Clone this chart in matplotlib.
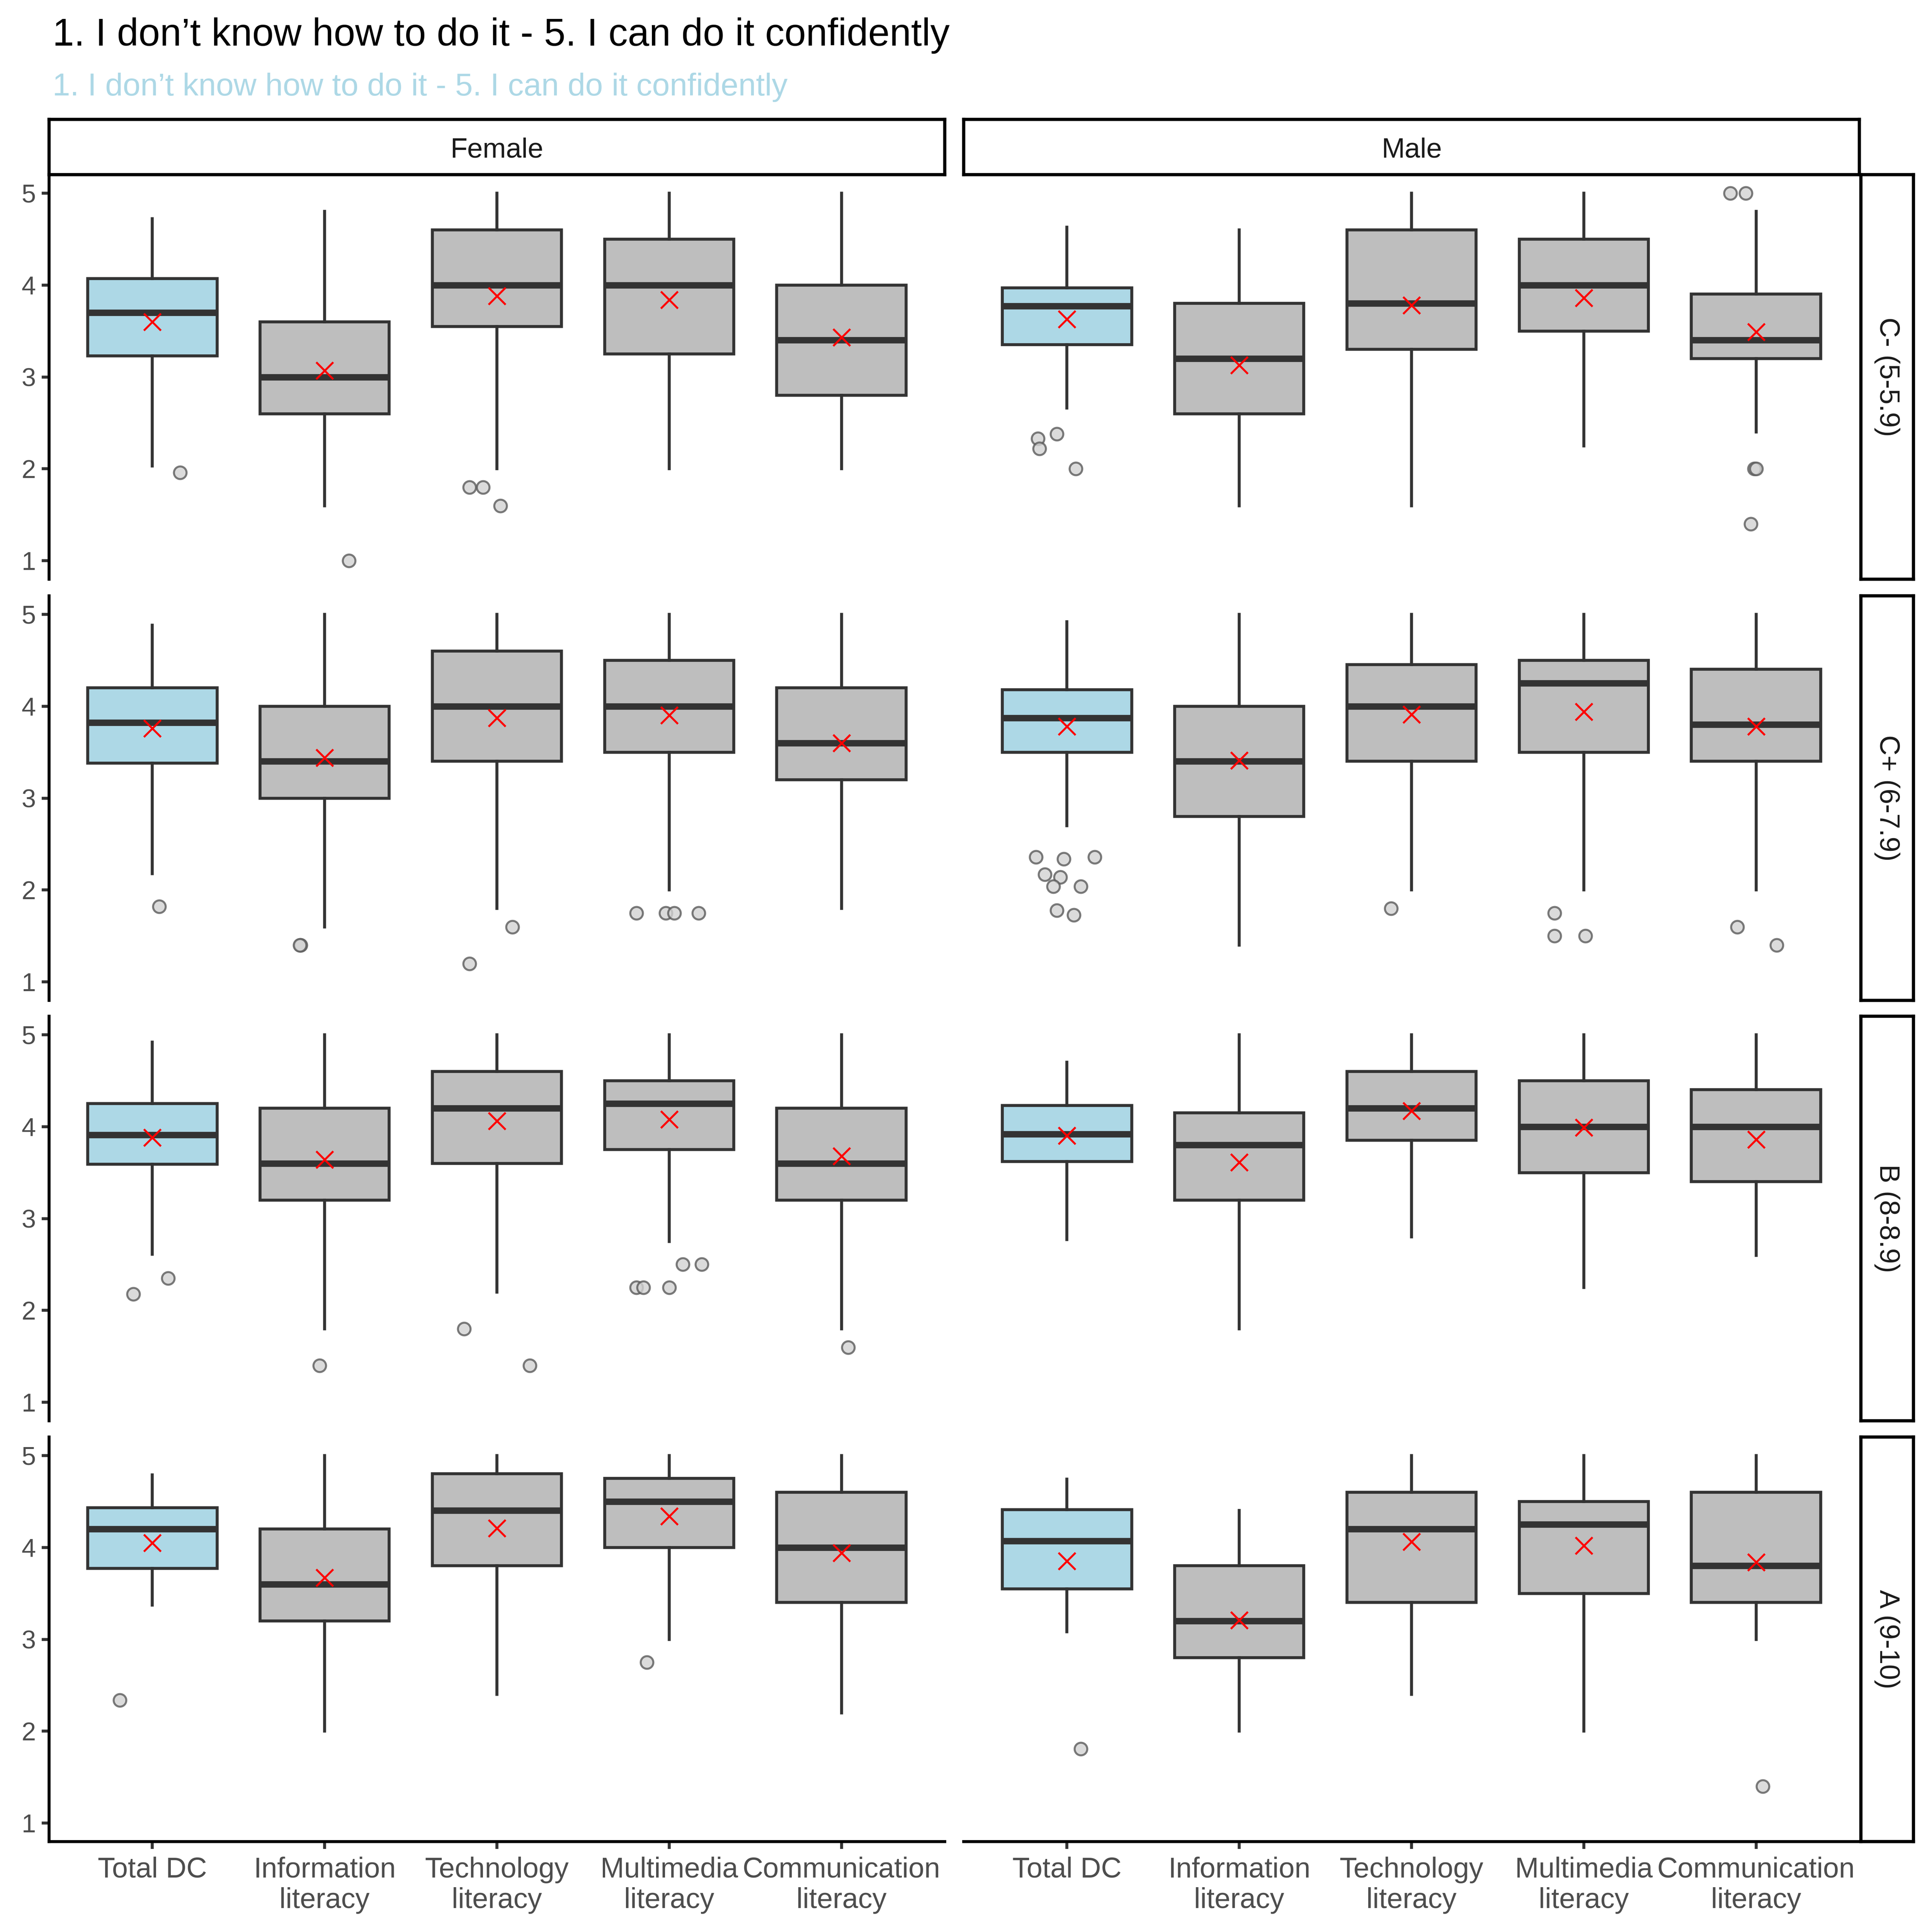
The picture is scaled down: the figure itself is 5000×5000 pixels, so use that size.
import matplotlib
matplotlib.use("Agg")
import matplotlib.pyplot as plt

plt.rcParams['font.family'] = ['Liberation Sans', 'DejaVu Sans']

title = "1. I don\u2019t know how to do it - 5. I can do it confidently"
categories = ['Total DC', 'Information\nliteracy', 'Technology\nliteracy',
              'Multimedia\nliteracy', 'Communication\nliteracy']
genders = ['Female', 'Male']
grades = ['C- (5-5.9)', 'C+ (6-7.9)', 'B (8-8.9)', 'A (9-10)']

# box statistics, indexed [grade][gender][category]
whis_lo = [
    [[2.03, 1.60, 2.00, 2.00, 2.00], [2.66, 1.60, 1.60, 2.25, 2.40]],
    [[2.18, 1.60, 1.80, 2.00, 1.80], [2.70, 1.40, 2.00, 2.00, 2.00]],
    [[2.61, 1.80, 2.20, 2.75, 1.80], [2.77, 1.80, 2.80, 2.25, 2.60]],
    [[3.37, 2.00, 2.40, 3.00, 2.20], [3.08, 2.00, 2.40, 2.00, 3.00]],
]
q1 = [
    [[3.23, 2.60, 3.55, 3.25, 2.80], [3.35, 2.60, 3.30, 3.50, 3.20]],
    [[3.38, 3.00, 3.40, 3.50, 3.20], [3.50, 2.80, 3.40, 3.50, 3.40]],
    [[3.59, 3.20, 3.60, 3.75, 3.20], [3.62, 3.20, 3.85, 3.50, 3.40]],
    [[3.77, 3.20, 3.80, 4.00, 3.40], [3.55, 2.80, 3.40, 3.50, 3.40]],
]
medians = [
    [[3.70, 3.00, 4.00, 4.00, 3.40], [3.77, 3.20, 3.80, 4.00, 3.40]],
    [[3.82, 3.40, 4.00, 4.00, 3.60], [3.87, 3.40, 4.00, 4.25, 3.80]],
    [[3.91, 3.60, 4.20, 4.25, 3.60], [3.92, 3.80, 4.20, 4.00, 4.00]],
    [[4.20, 3.60, 4.40, 4.50, 4.00], [4.07, 3.20, 4.20, 4.25, 3.80]],
]
q3 = [
    [[4.07, 3.60, 4.60, 4.50, 4.00], [3.97, 3.80, 4.60, 4.50, 3.90]],
    [[4.20, 4.00, 4.60, 4.50, 4.20], [4.18, 4.00, 4.45, 4.50, 4.40]],
    [[4.25, 4.20, 4.60, 4.50, 4.20], [4.23, 4.15, 4.60, 4.50, 4.40]],
    [[4.43, 4.20, 4.80, 4.75, 4.60], [4.41, 3.80, 4.60, 4.50, 4.60]],
]
whis_hi = [
    [[4.72, 4.80, 5.00, 5.00, 5.00], [4.63, 4.60, 5.00, 5.00, 4.80]],
    [[4.88, 5.00, 5.00, 5.00, 5.00], [4.92, 5.00, 5.00, 5.00, 5.00]],
    [[4.92, 5.00, 5.00, 5.00, 5.00], [4.70, 5.00, 5.00, 5.00, 5.00]],
    [[4.79, 5.00, 5.00, 5.00, 5.00], [4.74, 4.40, 5.00, 5.00, 5.00]],
]
means = [
    [[3.60, 3.07, 3.88, 3.84, 3.43], [3.63, 3.13, 3.78, 3.86, 3.49]],
    [[3.76, 3.44, 3.87, 3.90, 3.60], [3.78, 3.41, 3.91, 3.94, 3.78]],
    [[3.88, 3.64, 4.06, 4.08, 3.68], [3.90, 3.61, 4.17, 3.99, 3.86]],
    [[4.05, 3.67, 4.21, 4.34, 3.94], [3.85, 3.21, 4.06, 4.02, 3.84]],
]

# outliers: grade, gender, category, value, jitter
out_grade = [0, 0, 0, 0, 0,
             0, 0, 0, 0, 0, 0, 0, 0, 0,
             1, 1, 1, 1, 1, 1, 1, 1, 1,
             1, 1, 1, 1, 1, 1, 1, 1, 1, 1, 1, 1, 1, 1, 1,
             2, 2, 2, 2, 2, 2, 2, 2, 2, 2, 2,
             3, 3, 3, 3]
out_gender = [0, 0, 0, 0, 0,
              1, 1, 1, 1, 1, 1, 1, 1, 1,
              0, 0, 0, 0, 0, 0, 0, 0, 0,
              1, 1, 1, 1, 1, 1, 1, 1, 1, 1, 1, 1, 1, 1, 1,
              0, 0, 0, 0, 0, 0, 0, 0, 0, 0, 0,
              0, 0, 1, 1]
out_cat = [0, 1, 2, 2, 2,
           0, 0, 0, 0, 4, 4, 4, 4, 4,
           0, 1, 1, 2, 2, 3, 3, 3, 3,
           0, 0, 0, 0, 0, 0, 0, 0, 0, 2, 3, 3, 3, 4, 4,
           0, 0, 1, 2, 2, 3, 3, 3, 3, 3, 4,
           0, 3, 0, 4]
out_val = [1.96, 1.00, 1.80, 1.80, 1.60,
           2.33, 2.38, 2.22, 2.00, 5.00, 5.00, 2.00, 2.00, 1.40,
           1.82, 1.40, 1.40, 1.60, 1.20, 1.75, 1.75, 1.75, 1.75,
           2.36, 2.34, 2.36, 2.17, 2.14, 2.04, 2.04, 1.78, 1.73, 1.80, 1.75, 1.50, 1.50, 1.60, 1.40,
           2.18, 2.35, 1.40, 1.80, 1.40, 2.25, 2.25, 2.25, 2.50, 2.50, 1.60,
           2.34, 2.75, 1.81, 1.40]
out_jit = [0.16, 0.14, -0.16, -0.08, 0.02,
           -0.17, -0.06, -0.16, 0.05, -0.15, -0.06, -0.01, 0.00, -0.03,
           0.04, -0.14, -0.145, 0.09, -0.16, -0.19, -0.02, 0.03, 0.17,
           -0.18, -0.02, 0.16, -0.13, -0.04, -0.08, 0.08, -0.06, 0.04, -0.12, -0.17, -0.17, 0.01, -0.11, 0.12,
           -0.11, 0.09, -0.03, -0.19, 0.19, -0.19, -0.15, 0.00, 0.08, 0.19, 0.04,
           -0.19, -0.13, 0.08, 0.04]

box_fill = ['#ADD8E6', '#BEBEBE', '#BEBEBE', '#BEBEBE', '#BEBEBE']
edge = '#333333'
W = 5000.0

fig = plt.figure(figsize=(10, 10), dpi=500)

col_left = [127, 2494]
col_w = 2318
row_top = [452, 1542, 2630, 3719]
row_h = 1047

positions = list(range(1, len(categories) + 1))

for r in range(len(grades)):
    for c in range(len(genders)):
        ax = fig.add_axes([col_left[c] / W, 1 - (row_top[r] + row_h) / W,
                           col_w / W, row_h / W])
        stats = []
        for k in range(len(categories)):
            stats.append(dict(med=medians[r][c][k], q1=q1[r][c][k], q3=q3[r][c][k],
                              whislo=whis_lo[r][c][k], whishi=whis_hi[r][c][k],
                              mean=means[r][c][k], fliers=[]))
        bp = ax.bxp(stats, positions=positions, widths=0.75, patch_artist=True,
                    showcaps=False, showfliers=False, showmeans=True,
                    boxprops=dict(edgecolor=edge, linewidth=1.1),
                    whiskerprops=dict(color=edge, linewidth=1.1),
                    medianprops=dict(color=edge, linewidth=2.4, solid_capstyle='butt'),
                    meanprops=dict(marker='x', markeredgecolor='red',
                                   markersize=6.3, markeredgewidth=0.75))
        for patch, col in zip(bp['boxes'], box_fill):
            patch.set_facecolor(col)

        xs = [out_cat[i] + 1 + out_jit[i] for i in range(len(out_val))
              if out_grade[i] == r and out_gender[i] == c]
        ys = [out_val[i] for i in range(len(out_val))
              if out_grade[i] == r and out_gender[i] == c]
        ax.plot(xs, ys, linestyle='none', marker='o', markersize=4.7,
                markerfacecolor='#D3D3D3', markeredgecolor='#5A5A5A',
                markeredgewidth=0.75, alpha=0.8, zorder=4)

        ax.set_xlim(0.4, 5.6)
        ax.set_ylim(0.8, 5.2)
        for s in ['top', 'right']:
            ax.spines[s].set_visible(False)
        ax.spines['left'].set_visible(c == 0)
        ax.spines['bottom'].set_visible(r == len(grades) - 1)
        ax.spines['left'].set_linewidth(1.1)
        ax.spines['bottom'].set_linewidth(1.1)
        ax.tick_params(length=2.75, width=1.1, color='#333333',
                       labelcolor='#4D4D4D', pad=2.2)
        ax.tick_params(axis='y', labelsize=9.6)
        ax.tick_params(axis='x', labelsize=10.6, pad=2.8)
        ax.set_yticks([1, 2, 3, 4, 5])
        ax.set_xticks(positions)
        ax.set_xticklabels(categories)
        if c != 0:
            ax.tick_params(axis='y', left=False, labelleft=False)
        if r != len(grades) - 1:
            ax.tick_params(axis='x', bottom=False, labelbottom=False)

# strips on top
for c, g in enumerate(genders):
    sax = fig.add_axes([col_left[c] / W, 1 - 452 / W, col_w / W, 143 / W])
    sax.set_xticks([])
    sax.set_yticks([])
    for s in sax.spines.values():
        s.set_linewidth(1.2)
        s.set_color('black')
    sax.text(0.5, 0.44, g, ha='center', va='center', fontsize=10.4,
             color='#1A1A1A', transform=sax.transAxes)

# strips on the right
for r, gr in enumerate(grades):
    sax = fig.add_axes([4816 / W, 1 - (row_top[r] + row_h) / W, 136 / W, row_h / W])
    sax.set_xticks([])
    sax.set_yticks([])
    for s in sax.spines.values():
        s.set_linewidth(1.2)
        s.set_color('black')
    sax.text(0.5, 0.5, gr, ha='center', va='center', rotation=270,
             fontsize=10.4, color='#1A1A1A', transform=sax.transAxes)

fig.text(136 / W, 1 - 118 / W, title, fontsize=14.4, color='black',
         ha='left', va='baseline')
fig.text(136 / W, 1 - 247 / W, title, fontsize=11.8, color='#ADD8E6',
         ha='left', va='baseline')

fig.savefig('out.png', dpi=500, facecolor='white')
